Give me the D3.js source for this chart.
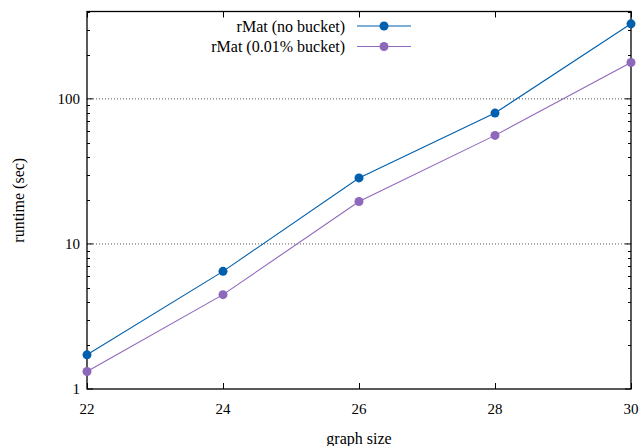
<!DOCTYPE html>
<html>
<head>
<meta charset="utf-8">
<script src="https://cdn.jsdelivr.net/npm/d3@7"></script>
<style>
  body { margin: 0; background: #fff; }
  svg { display: block; font-family: "Liberation Serif", "DejaVu Serif", serif; }
</style>
</head>
<body>
<div id="container"></div>
<script>
// graph sizes (x) and runtimes in seconds
const sizes = [22, 24, 26, 28, 30];
const noBucket = [1.72, 6.47, 28.5, 79.8, 329];
const bucket001 = [1.32, 4.47, 19.6, 56, 178];
const seriesNames = ["rMat (no bucket)", "rMat (0.01% bucket)"];
const seriesColors = ["#0060ad", "#8e68bb"];
const xTicks = [22, 24, 26, 28, 30];
const yTicks = [1, 10, 100];
const gridValues = [10, 100];

const width = 639, height = 446;
const margin = { left: 87, right: 8, top: 11.5, bottom: 57 };

const svg = d3.select("#container").append("svg")
    .attr("width", width)
    .attr("height", height);

const x = d3.scaleLinear()
    .domain([22, 30])
    .range([margin.left, width - margin.right]);

const y = d3.scaleLog()
    .domain([1, 400])
    .range([height - margin.bottom, margin.top]);

const x0 = x.range()[0], x1 = x.range()[1];
const y0 = y.range()[0], y1 = y.range()[1];

// dotted grid
svg.append("g")
    .selectAll("line")
    .data(gridValues)
    .join("line")
    .attr("x1", x0).attr("x2", x1)
    .attr("y1", d => y(d)).attr("y2", d => y(d))
    .attr("stroke", "#555")
    .attr("stroke-width", 1)
    .attr("stroke-dasharray", "1,2");

// minor y ticks (2..9 per decade)
const minorY = [];
for (let dec = 1; dec <= 100; dec *= 10) {
    for (let k = 2; k <= 9; k++) {
        if (dec * k <= 400) minorY.push(dec * k);
    }
}

const ticks = svg.append("g").attr("stroke", "#000").attr("stroke-width", 1);

ticks.selectAll(".ymaj").data(yTicks).join("path")
    .attr("class", "ymaj")
    .attr("d", d => `M${x0},${y(d)}h6M${x1},${y(d)}h-6`);

ticks.selectAll(".ymin").data(minorY).join("path")
    .attr("class", "ymin")
    .attr("d", d => `M${x0},${Math.round(y(d)) + 0.5}h3M${x1},${Math.round(y(d)) + 0.5}h-3`);

ticks.selectAll(".xmaj").data(xTicks).join("path")
    .attr("class", "xmaj")
    .attr("d", d => `M${Math.round(x(d)) + 0.5},${y0}v-6M${Math.round(x(d)) + 0.5},${y1}v6`);

// frame
svg.append("rect")
    .attr("x", x0).attr("y", y1)
    .attr("width", x1 - x0).attr("height", y0 - y1)
    .attr("fill", "none")
    .attr("stroke", "#000")
    .attr("stroke-width", 1.3);

// tick labels
svg.append("g")
    .selectAll("text")
    .data(yTicks)
    .join("text")
    .attr("x", x0 - 7)
    .attr("y", d => y(d))
    .attr("dy", "0.35em")
    .attr("text-anchor", "end")
    .attr("font-size", 15)
    .text(d => d);

svg.append("g")
    .selectAll("text")
    .data(xTicks)
    .join("text")
    .attr("x", d => x(d))
    .attr("y", y0 + 19.5)
    .attr("dy", "0.35em")
    .attr("text-anchor", "middle")
    .attr("font-size", 15)
    .text(d => d);

// axis titles
svg.append("text")
    .attr("transform", `translate(18,${(y0 + y1) / 2}) rotate(-90)`)
    .attr("text-anchor", "middle")
    .attr("dy", "0.35em")
    .attr("font-size", 16)
    .text("runtime (sec)");

svg.append("text")
    .attr("x", (x0 + x1) / 2)
    .attr("y", 444)
    .attr("text-anchor", "middle")
    .attr("font-size", 16)
    .text("graph size");

// series
const allSeries = [noBucket, bucket001];
const line = d3.line()
    .x((d, i) => x(sizes[i]))
    .y(d => y(d));

allSeries.forEach((vals, s) => {
    svg.append("path")
        .datum(vals)
        .attr("d", line)
        .attr("fill", "none")
        .attr("stroke", seriesColors[s])
        .attr("stroke-width", 1.1);

    svg.append("g")
        .selectAll("circle")
        .data(vals)
        .join("circle")
        .attr("cx", (d, i) => x(sizes[i]))
        .attr("cy", d => y(d))
        .attr("r", 4.5)
        .attr("fill", seriesColors[s]);
});

// legend
const legend = svg.append("g");
seriesNames.forEach((name, s) => {
    const ly = 26 + s * 20.5;
    legend.append("text")
        .attr("x", 345)
        .attr("y", ly)
        .attr("dy", "0.35em")
        .attr("text-anchor", "end")
        .attr("font-size", 16)
        .text(name);
    legend.append("line")
        .attr("x1", 357).attr("x2", 411)
        .attr("y1", ly).attr("y2", ly)
        .attr("stroke", seriesColors[s])
        .attr("stroke-width", 1.1);
    legend.append("circle")
        .attr("cx", 384).attr("cy", ly)
        .attr("r", 4.5)
        .attr("fill", seriesColors[s]);
});
</script>
</body>
</html>
